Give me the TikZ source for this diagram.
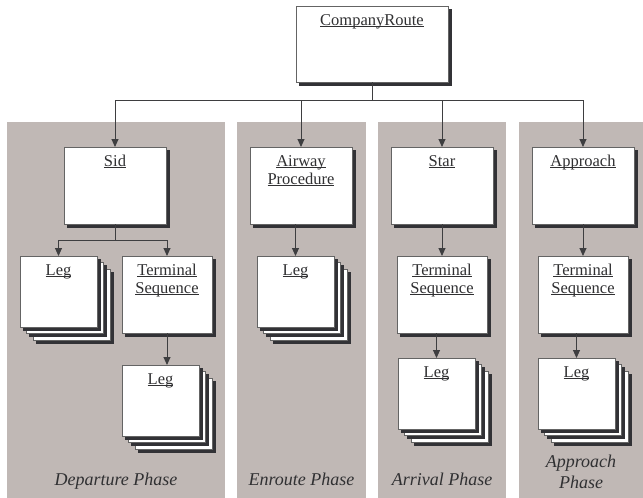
\documentclass[tikz,border=0pt]{standalone}
\usepackage{fontspec}
\setmainfont{Liberation Serif}
\usetikzlibrary{arrows.meta,calc}
\definecolor{panelc}{RGB}{192,184,181}
\definecolor{shadc}{RGB}{50,50,54}
\definecolor{edgec}{RGB}{100,100,100}
\definecolor{linec}{RGB}{62,62,64}
\definecolor{textc}{RGB}{48,48,50}
\newcommand\ulbl[1]{\underline{\smash{#1}}}
\newcommand\fstrut{\rule{0pt}{11pt}}
\tikzset{
  plainbox/.style={draw=edgec, line width=0.6pt, fill=white, inner sep=0pt, outer sep=0pt, anchor=north west},
  shad/.style={preaction={fill=shadc, draw=shadc, transform canvas={shift={(#1+3pt,-#1-3pt)}}}},
  sheet/.style={preaction={fill=white, draw=edgec, transform canvas={shift={(#1,-#1)}}}},
  box/.style={plainbox, shad=0pt},
  legbox/.style={plainbox, shad=13pt, sheet=13pt, shad=6.5pt, sheet=6.5pt, shad=0pt,
    minimum width=77pt, minimum height=71pt},
  firstbox/.style={box, minimum width=102pt, minimum height=77pt},
  tsbox/.style={box, minimum width=90pt, minimum height=77pt},
  arr/.style={draw=linec, line width=0.9pt, -{Triangle[length=8pt,width=7pt]}},
  conn/.style={draw=linec, line width=0.9pt},
  lbl/.style={anchor=north, inner sep=0pt, align=center, text=textc, font=\fontsize{16.5}{18}\selectfont},
  phase/.style={anchor=base, inner sep=0pt, text=textc, font=\fontsize{18}{21}\selectfont\itshape},
  panel/.style={fill=panelc}
}
\begin{document}
\begin{tikzpicture}[x=1pt,y=-1pt]
\useasboundingbox (0,0) rectangle (643,498);
\fill[white] (0,0) rectangle (643,498);
% phase panels
\fill[panel] (7,122) rectangle (225,498);
\fill[panel] (237,122) rectangle (366,498);
\fill[panel] (378,122) rectangle (506,498);
\fill[panel] (519,122) rectangle (643,498);

% boxes
\node[box, minimum width=152pt, minimum height=76pt] (cr) at (296,6) {};
\node[firstbox] (sid) at (64,147) {};
\node[firstbox] (air) at (250,147) {};
\node[firstbox] (star) at (391,147) {};
\node[firstbox] (app) at (532,147) {};

\node[legbox] (dleg1) at (20,256) {};
\node[tsbox] (dts) at (122,256) {};
\node[legbox] (dleg2) at (122,365) {};
\node[legbox] (eleg) at (257,256) {};
\node[tsbox] (ats) at (397,256) {};
\node[legbox] (aleg) at (398,358) {};
\node[tsbox] (pts) at (538,256) {};
\node[legbox] (pleg) at (538,358) {};

% labels
\node[lbl] (crL) at ($(cr.north)+(0,8)$) {\fstrut\ulbl{CompanyRoute}};
\node[lbl] (sidL) at ($(sid.north)+(0,8)$) {\fstrut\ulbl{Sid}};
\node[lbl] (airL) at ($(air.north)+(0,8)$) {\fstrut\ulbl{Airway}\\\ulbl{Procedure}};
\node[lbl] (starL) at ($(star.north)+(0,8)$) {\fstrut\ulbl{Star}};
\node[lbl] (appL) at ($(app.north)+(0,8)$) {\fstrut\ulbl{Approach}};
\node[lbl] (dleg1L) at ($(dleg1.north)+(0,8)$) {\fstrut\ulbl{Leg}};
\node[lbl] (dtsL) at ($(dts.north)+(0,8)$) {\fstrut\ulbl{Terminal}\\\ulbl{Sequence}};
\node[lbl] (dleg2L) at ($(dleg2.north)+(0,8)$) {\fstrut\ulbl{Leg}};
\node[lbl] (elegL) at ($(eleg.north)+(0,8)$) {\fstrut\ulbl{Leg}};
\node[lbl] (atsL) at ($(ats.north)+(0,8)$) {\fstrut\ulbl{Terminal}\\\ulbl{Sequence}};
\node[lbl] (alegL) at ($(aleg.north)+(0,8)$) {\fstrut\ulbl{Leg}};
\node[lbl] (ptsL) at ($(pts.north)+(0,8)$) {\fstrut\ulbl{Terminal}\\\ulbl{Sequence}};
\node[lbl] (plegL) at ($(pleg.north)+(0,8)$) {\fstrut\ulbl{Leg}};

% phase names
\node[phase] (dph) at (116,485) {Departure Phase};
\node[phase] (eph) at (301.5,485) {Enroute Phase};
\node[phase] (aph) at (442,485) {Arrival Phase};
\node[phase] (pph1) at (581,467) {Approach};
\node[phase] (pph2) at (581,488) {Phase};

% connectors
\coordinate (hub) at ($(cr.south)+(0,18)$);
\draw[conn] (cr.south) -- (hub);
\draw[arr] (hub) -| (sid.north);
\draw[arr] (hub) -| (air.north);
\draw[arr] (hub) -| (star.north);
\draw[arr] (hub) -| (app.north);

\coordinate (sidhub) at ($(sid.south)+(0,16)$);
\draw[conn] (sid.south) -- (sidhub);
\draw[arr] (sidhub) -| (dleg1.north);
\draw[arr] (sidhub) -| (dts.north);
\draw[arr] (dts.south) -- (dts.south |- dleg2.north);

\draw[arr] (eleg.north |- air.south) -- (eleg.north);
\draw[arr] (star.south) -- (ats.north);
\draw[arr] (aleg.north |- ats.south) -- (aleg.north);
\draw[arr] (app.south) -- (pts.north);
\draw[arr] (pleg.north |- pts.south) -- (pleg.north);
\end{tikzpicture}
\end{document}
